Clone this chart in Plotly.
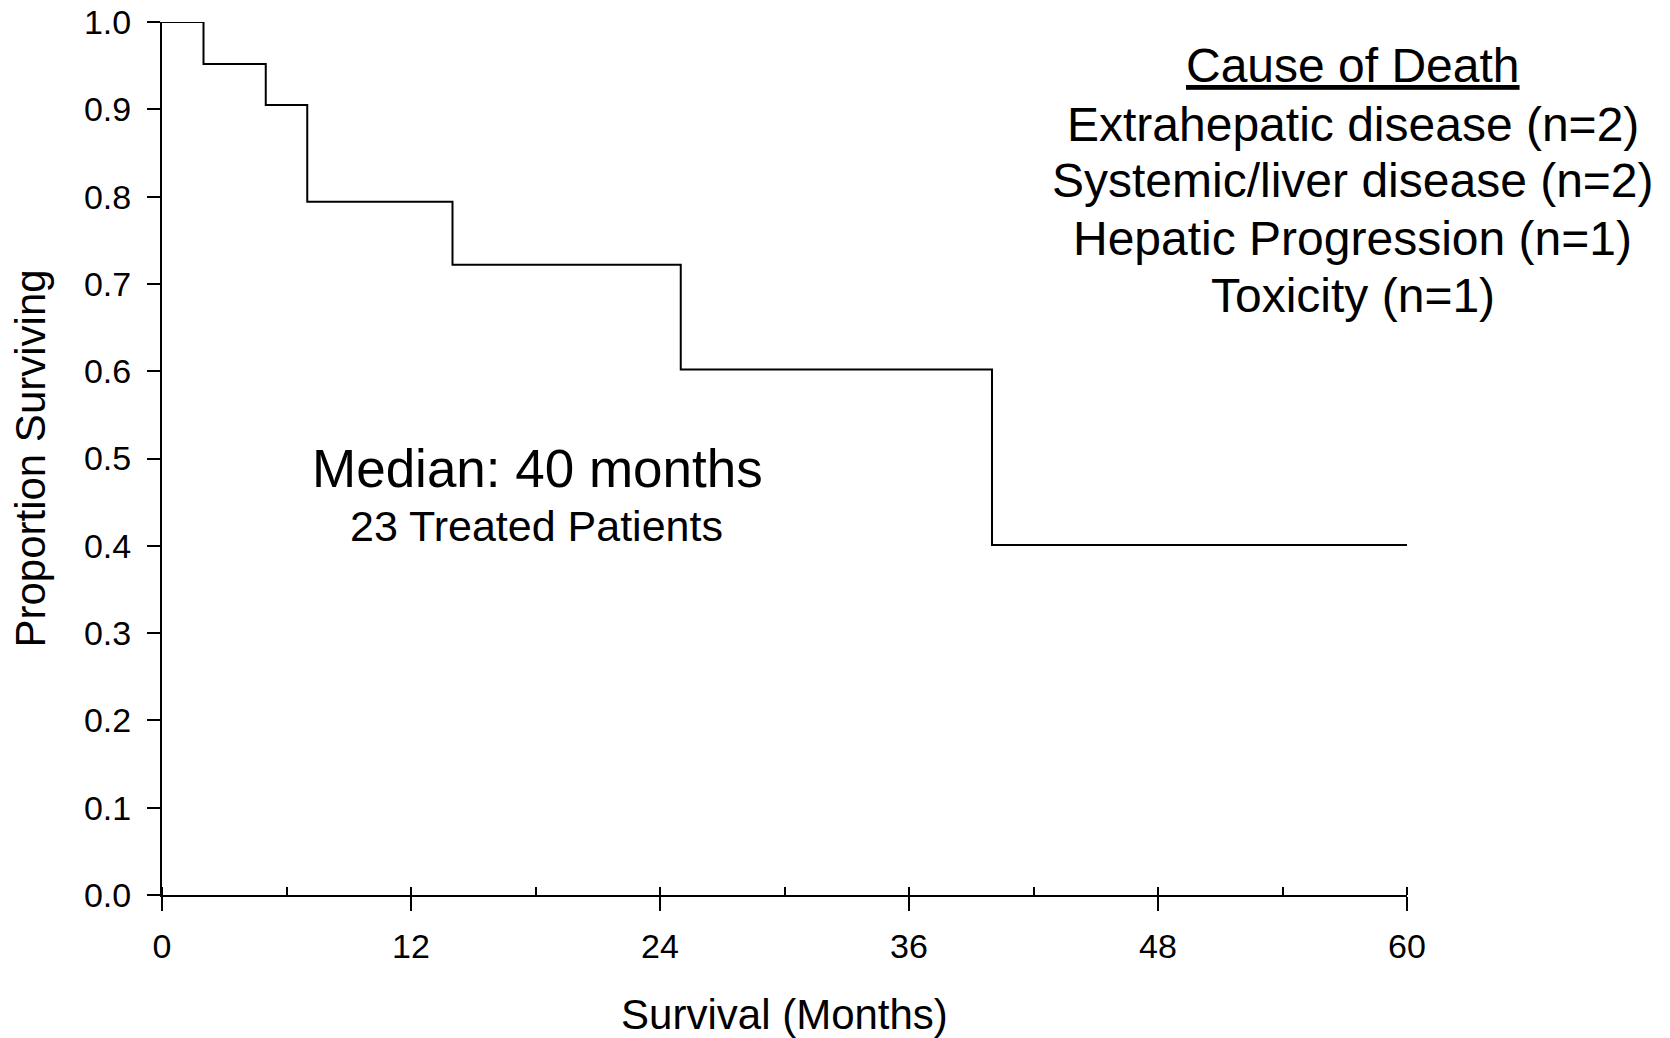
import plotly.graph_objects as go

# Kaplan-Meier step data (months, proportion surviving)
months = [0, 2, 5, 7, 14, 25, 40, 60]
surviving = [1.0, 0.952, 0.905, 0.794, 0.722, 0.602, 0.401, 0.401]

x_ticks = [0, 12, 24, 36, 48, 60]
y_ticks = [0.0, 0.1, 0.2, 0.3, 0.4, 0.5, 0.6, 0.7, 0.8, 0.9, 1.0]

legend_title = "Cause of Death"
causes = ["Extrahepatic disease (n=2)", "Systemic/liver disease (n=2)",
          "Hepatic Progression (n=1)", "Toxicity (n=1)"]
median_text = "Median: 40 months"
patients_text = "23 Treated Patients"

FONT = "Liberation Sans, Arial, sans-serif"

fig = go.Figure()
fig.add_trace(go.Scatter(
    x=months, y=surviving, mode="lines", line=dict(color="black", width=2, shape="hv"),
    showlegend=False, hoverinfo="skip", cliponaxis=False))

W, H = 1670, 1038
ml, mr, mt, mb = 161.5, 263, 22.4, 143.4
fig.update_layout(
    width=W, height=H, autosize=False,
    margin=dict(l=ml, r=mr, t=mt, b=mb, pad=0),
    paper_bgcolor="white", plot_bgcolor="white",
    font=dict(family=FONT, color="black", size=33),
)
fig.update_xaxes(
    range=[0, 60], tickvals=x_ticks, ticktext=[str(v) for v in x_ticks],
    showgrid=False, zeroline=False, showline=True, linecolor="black", linewidth=2,
    ticks="outside", ticklen=14, tickwidth=2, tickcolor="black",
    tickfont=dict(size=34), ticklabelstandoff=6, automargin=False,
    minor=dict(ticks="inside", dtick=6, tick0=0, ticklen=8, tickwidth=2, tickcolor="black", showgrid=False),
    title=dict(text="Survival (Months)", font=dict(size=42), standoff=43),
)
fig.update_yaxes(
    range=[0, 1], tickvals=y_ticks, ticktext=[f"{v:.1f}" for v in y_ticks],
    showgrid=False, zeroline=False, showline=True, linecolor="black", linewidth=2,
    ticks="outside", ticklen=13, tickwidth=2, tickcolor="black",
    tickfont=dict(size=34), ticklabelstandoff=9, automargin=False,
    title=dict(text="Proportion Surviving", font=dict(size=42), standoff=25),
)

plot_w = W - ml - mr
plot_h = H - mt - mb
def px_to_paper_x(px):
    return (px - ml) / plot_w
def px_to_paper_y(py):
    return (H - mb - py) / plot_h

cx = px_to_paper_x(1352.6)
fig.add_annotation(text="<u>" + legend_title + "</u>", x=cx, y=px_to_paper_y(66),
                   xref="paper", yref="paper", showarrow=False, xanchor="center", yanchor="middle",
                   font=dict(size=48))
for c, yy in zip(causes, [124.6, 181, 238.6, 296]):
    fig.add_annotation(text=c, x=cx, y=px_to_paper_y(yy), xref="paper", yref="paper",
                       showarrow=False, xanchor="center", yanchor="middle", font=dict(size=48))

fig.add_annotation(text=median_text, x=px_to_paper_x(536.8), y=px_to_paper_y(468.6),
                   xref="paper", yref="paper", showarrow=False, xanchor="center", yanchor="middle",
                   font=dict(size=53))
fig.add_annotation(text=patients_text, x=px_to_paper_x(536.5), y=px_to_paper_y(526),
                   xref="paper", yref="paper", showarrow=False, xanchor="center", yanchor="middle",
                   font=dict(size=43))

fig.write_html("out.html")
